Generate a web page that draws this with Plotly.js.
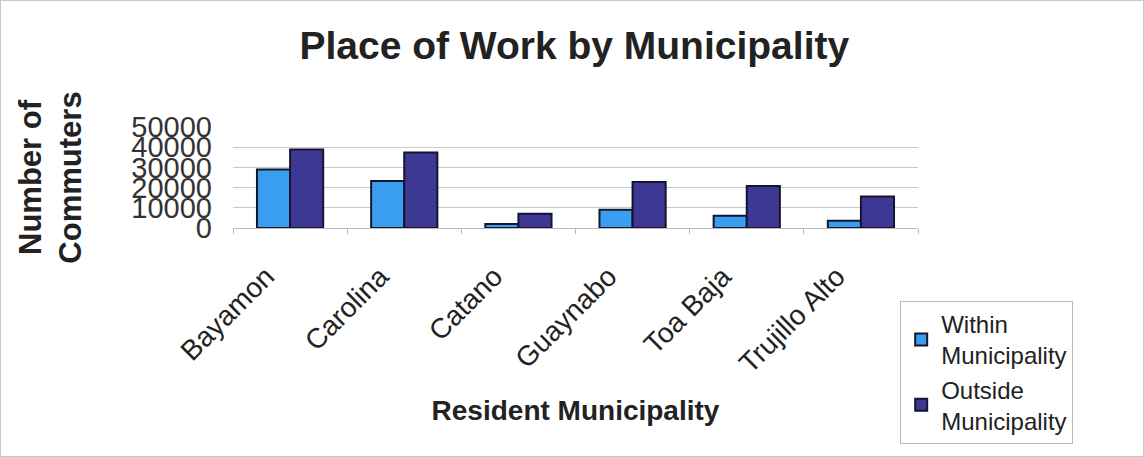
<!DOCTYPE html>
<html>
<head>
<meta charset="utf-8">
<script src="https://cdn.plot.ly/plotly-3.0.1.min.js"></script>
<style>
html,body{margin:0;padding:0;background:#fff;}
#wrap{position:relative;width:1144px;height:457px;}
#chart{width:1144px;height:457px;}
#frame{position:absolute;left:0;top:0;width:1144px;height:457px;box-sizing:border-box;border:1px solid #c8c8c8;pointer-events:none;z-index:10;}
</style>
</head>
<body>
<div id="wrap"><div id="chart"></div><div id="frame"></div></div>
<script>
const municipalities = ["Bayamon", "Carolina", "Catano", "Guaynabo", "Toa Baja", "Trujillo Alto"];
const withinMunicipality = [29000, 23300, 2000, 9000, 6100, 3600];
const outsideMunicipality = [38800, 37400, 7100, 22800, 20800, 15600];
const yTicks = [0, 10000, 20000, 30000, 40000, 50000];

const font = "Liberation Sans, Arial, sans-serif";

const traces = [
  {
    type: "bar", name: "Within<br>Municipality",
    x: municipalities, y: withinMunicipality,
    marker: {color: "#3a9ef0", line: {color: "#15152e", width: 2}}
  },
  {
    type: "bar", name: "Outside<br>Municipality",
    x: municipalities, y: outsideMunicipality,
    marker: {color: "#3d3894", line: {color: "#15152e", width: 2}}
  }
];

const layout = {
  width: 1144, height: 457,
  paper_bgcolor: "#ffffff", plot_bgcolor: "#ffffff",
  margin: {l: 233, r: 226, t: 127, b: 229},
  barmode: "group", bargap: 0.42, bargroupgap: 0,
  font: {family: font, color: "#222"},
  title: {
    text: "<b>Place of Work by Municipality</b>",
    font: {family: font, size: 39, color: "#222"},
    x: 0.502, xanchor: "center", y: 0.9, yanchor: "middle"
  },
  xaxis: {
    type: "category",
    tickangle: -45,
    tickfont: {family: font, size: 28, color: "#222"},
    tickson: "boundaries",
    ticks: "outside", ticklen: 5, tickcolor: "#bbb",
    showline: true, linecolor: "#bbb", linewidth: 1,
    showgrid: false,
    ticklabelstandoff: 20,
    ticklabelshift: -24,
    automargin: false,
    title: {text: "<b>Resident Municipality</b>", font: {family: font, size: 28, color: "#222"}, standoff: 22}
  },
  yaxis: {
    range: [0, 50000],
    tickvals: yTicks,
    ticktext: yTicks.map(String),
    tickfont: {family: font, size: 29, color: "#333"},
    showgrid: true, gridcolor: "#c8c8c8", gridwidth: 1,
    zeroline: false,
    showline: false,
    ticks: "",
    ticklabelstandoff: 20,
    automargin: false,
    title: {text: "<b>Number of<br>Commuters</b>", font: {family: font, size: 31, color: "#222"}, standoff: 40}
  },
  legend: {
    x: 0.974, xanchor: "left", y: -0.72, yanchor: "top",
    bordercolor: "#bbb", borderwidth: 1,
    font: {family: font, size: 24, color: "#222"},
    bgcolor: "#fff",
    tracegroupgap: 0
  },
  showlegend: true
};

Plotly.newPlot("chart", traces, layout, {displayModeBar: false, staticPlot: true});
</script>
</body>
</html>
